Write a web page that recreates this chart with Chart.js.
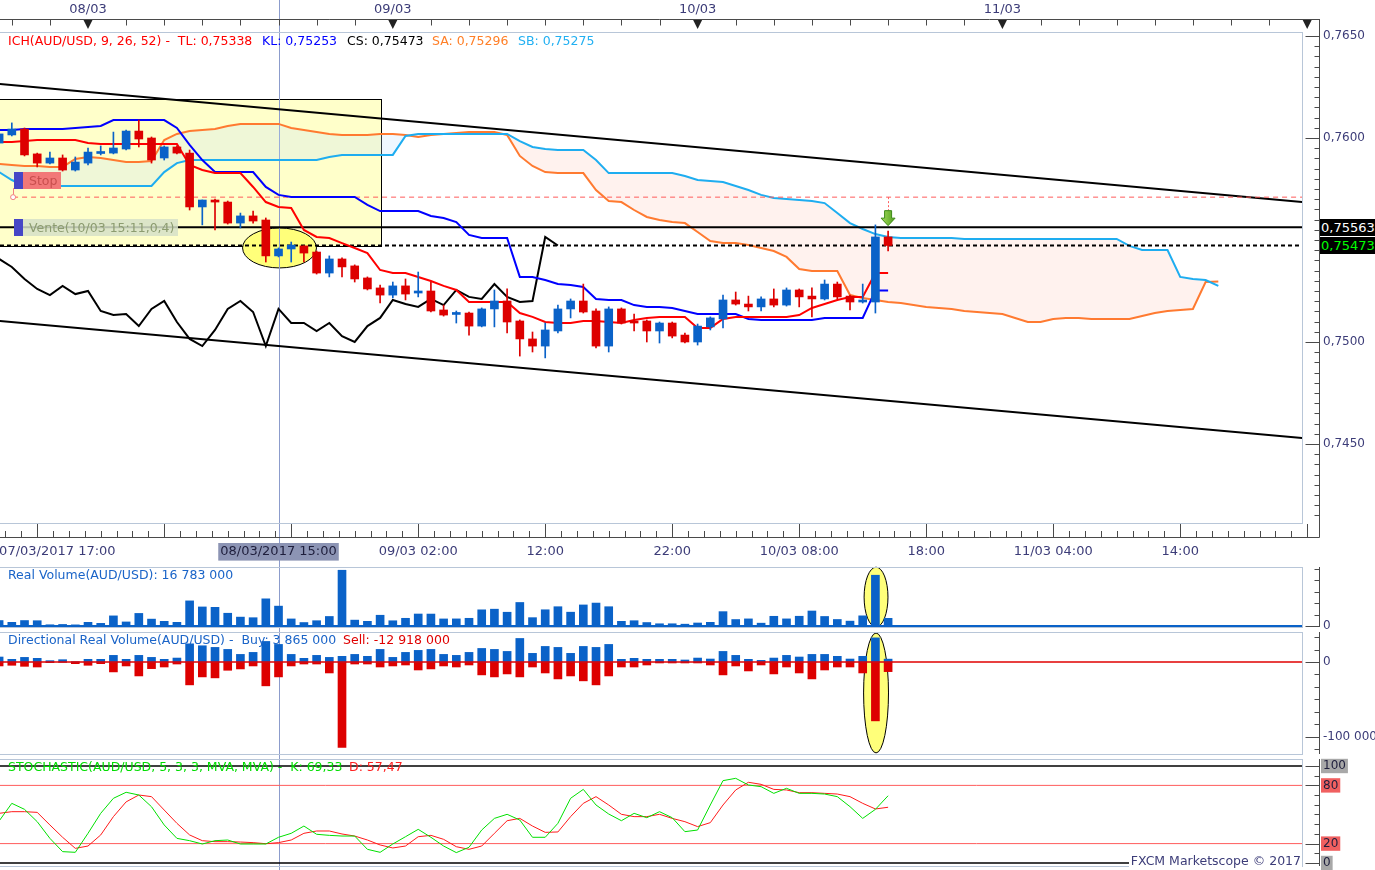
<!DOCTYPE html>
<html>
<head>
<meta charset="utf-8">
<title>AUD/USD - Ichimoku</title>
<script src="https://cdn.jsdelivr.net/npm/chart.js@4.4.1/dist/chart.umd.min.js"></script>
<style>
html,body{margin:0;padding:0;background:#fff;}
body{width:1375px;height:870px;position:relative;overflow:hidden;font-family:"DejaVu Sans",Verdana,sans-serif;}
canvas{position:absolute;left:0;}
#cMain{top:0;} #cVol{top:564px;} #cDir{top:630px;} #cSto{top:755px;}
.t{position:absolute;white-space:pre;font-size:12.5px;line-height:14px;font-family:"DejaVu Sans",Verdana,sans-serif;}
</style>
</head>
<body>
<canvas id="cMain" width="1375" height="567"></canvas>
<canvas id="cVol" width="1375" height="66"></canvas>
<canvas id="cDir" width="1375" height="125"></canvas>
<canvas id="cSto" width="1375" height="115"></canvas>
<script>
// ================= DATA =================
// hours relative to 08/03/2017 00:00 (one candle per hour)
const candleHours = [-7,-6,-5,-4,-3,-2,-1,0,1,2,3,4,5,6,7,8,9,10,11,12,13,14,15,16,17,18,19,20,21,22,23,24,25,26,27,28,29,30,31,32,33,34,35,36,37,38,39,40,41,42,43,44,45,46,47,48,49,50,51,52,53,54,55,56,57,58,59,60,61,62,63];
const forwardHours = [64,65,66,67,68,69,70,71,72,73,74,75,76,77,78,79,80,81,82,83,84,85,86,87,88,89];
const cloudHours = candleHours.concat(forwardHours);

const opens = [0.75975,0.76015,0.76044,0.75922,0.75877,0.75902,0.75843,
 0.75877,0.75924,0.75926,0.75946,0.76034,0.76000,0.75902,0.75956,
 0.75926,0.75662,0.75696,0.75686,0.75583,0.75618,0.75598,0.75422,
 0.75456,0.75471,0.75441,0.75338,0.75407,0.75373,0.75314,0.75265,
 0.75230,0.75275,0.75240,0.75250,0.75157,0.75135,0.75142,0.75078,
 0.75162,0.75201,0.75103,0.75015,0.74980,0.75054,0.75162,0.75201,
 0.75152,0.74980,0.75162,0.75103,0.75103,0.75054,0.75093,0.75034,
 0.75000,0.75074,0.75113,0.75206,0.75186,0.75172,0.75211,0.75181,
 0.75255,0.75225,0.75211,0.75284,0.75225,0.75196,0.75196,0.75515];
const highs = [0.76029,0.76074,0.76049,0.75926,0.75931,0.75917,0.75907,
 0.75951,0.75961,0.76029,0.76039,0.76088,0.76005,0.75961,0.75961,
 0.75941,0.75696,0.75701,0.75691,0.75632,0.75642,0.75608,0.75461,
 0.75490,0.75471,0.75446,0.75422,0.75412,0.75378,0.75319,0.75279,
 0.75294,0.75309,0.75343,0.75294,0.75181,0.75152,0.75147,0.75167,
 0.75255,0.75260,0.75108,0.75049,0.75093,0.75181,0.75211,0.75284,
 0.75162,0.75172,0.75167,0.75137,0.75108,0.75098,0.75098,0.75044,
 0.75088,0.75123,0.75230,0.75245,0.75225,0.75221,0.75260,0.75265,
 0.75260,0.75265,0.75304,0.75294,0.75230,0.75284,0.75574,0.75544];
const lows = [0.75966,0.76010,0.75912,0.75858,0.75873,0.75838,0.75838,
 0.75868,0.75917,0.75922,0.75941,0.75956,0.75877,0.75892,0.75922,
 0.75647,0.75574,0.75549,0.75578,0.75559,0.75583,0.75392,0.75417,
 0.75392,0.75392,0.75333,0.75319,0.75319,0.75294,0.75255,0.75191,
 0.75216,0.75206,0.75221,0.75147,0.75127,0.75093,0.75034,0.75074,
 0.75074,0.75044,0.74931,0.74951,0.74922,0.75044,0.75118,0.75142,
 0.74971,0.74951,0.75088,0.75054,0.75000,0.74995,0.75020,0.74995,
 0.74985,0.75059,0.75069,0.75181,0.75152,0.75152,0.75172,0.75176,
 0.75172,0.75123,0.75206,0.75211,0.75157,0.75191,0.75142,0.75446];
const closes = [0.76020,0.76044,0.75917,0.75877,0.75902,0.75843,0.75882,
 0.75931,0.75926,0.75951,0.76034,0.75995,0.75892,0.75956,0.75926,
 0.75662,0.75696,0.75686,0.75583,0.75618,0.75593,0.75422,0.75456,
 0.75475,0.75436,0.75338,0.75407,0.75368,0.75309,0.75260,0.75230,
 0.75275,0.75235,0.75250,0.75152,0.75132,0.75137,0.75078,0.75162,
 0.75201,0.75098,0.75015,0.74980,0.75059,0.75162,0.75201,0.75147,
 0.74980,0.75162,0.75093,0.75093,0.75054,0.75093,0.75029,0.75000,
 0.75078,0.75118,0.75206,0.75186,0.75172,0.75211,0.75181,0.75255,
 0.75221,0.75211,0.75284,0.75221,0.75196,0.75201,0.75515,0.75473];

const tenkan = [0.75980,0.75980,0.75985,0.75990,0.75990,0.75990,0.75990,
 0.75975,0.75971,0.75971,0.75971,0.75971,0.75971,0.75971,0.75971,
 0.75868,0.75843,0.75828,0.75828,0.75828,0.75760,0.75686,0.75662,
 0.75657,0.75549,0.75515,0.75510,0.75485,0.75461,0.75436,0.75353,
 0.75338,0.75338,0.75319,0.75299,0.75275,0.75255,0.75196,0.75196,
 0.75196,0.75196,0.75142,0.75123,0.75098,0.75093,0.75093,0.75103,
 0.75103,0.75098,0.75093,0.75108,0.75118,0.75123,0.75123,0.75123,
 0.75069,0.75069,0.75113,0.75123,0.75123,0.75123,0.75123,0.75123,
 0.75132,0.75167,0.75186,0.75206,0.75221,0.75221,0.75338,0.75338];
const kijun = [0.76039,0.76039,0.76044,0.76044,0.76044,0.76044,0.76049,
 0.76054,0.76059,0.76088,0.76088,0.76088,0.76088,0.76088,0.76049,
 0.75966,0.75892,0.75833,0.75833,0.75833,0.75833,0.75760,0.75721,
 0.75711,0.75711,0.75711,0.75711,0.75711,0.75711,0.75672,0.75642,
 0.75642,0.75642,0.75642,0.75618,0.75608,0.75588,0.75525,0.75510,
 0.75510,0.75510,0.75319,0.75319,0.75304,0.75284,0.75279,0.75270,
 0.75211,0.75206,0.75206,0.75181,0.75172,0.75172,0.75167,0.75152,
 0.75137,0.75137,0.75137,0.75137,0.75113,0.75108,0.75108,0.75108,
 0.75108,0.75108,0.75118,0.75118,0.75118,0.75118,0.75253,0.75253];
const senkouA = [0.75873,0.75868,0.75863,0.75863,0.75858,0.75858,0.75897,
 0.75907,0.75902,0.75892,0.75882,0.75882,0.75887,0.75990,0.76020,0.76034,0.76039,
 0.76044,0.76059,0.76069,0.76069,0.76069,0.76069,0.76049,0.76039,0.76029,0.76020,
 0.76015,0.76015,0.76015,0.76020,0.76020,0.76015,0.76005,0.76015,0.76020,0.76025,
 0.76029,0.76029,0.76029,0.76015,0.75912,0.75863,0.75833,0.75828,0.75828,0.75828,
 0.75745,0.75691,0.75686,0.75647,0.75613,0.75598,0.75588,0.75583,0.75539,0.75495,
 0.75485,0.75485,0.75475,0.75461,0.75446,0.75417,0.75358,0.75348,0.75348,0.75348,
 0.75230,0.75216,0.75206,0.75196,0.75191,0.75181,0.75172,0.75167,0.75162,0.75152,
 0.75147,0.75142,0.75137,0.75118,0.75098,0.75098,0.75113,0.75118,0.75118,0.75113,
 0.75113,0.75113,0.75113,0.75127,0.75142,0.75152,0.75157,0.75162,0.75294,0.75296];
const senkouB = [0.75833,0.75794,0.75765,0.75765,0.75765,0.75765,0.75765,
 0.75765,0.75765,0.75765,0.75765,0.75765,0.75765,0.75833,0.75877,0.75892,0.75892,
 0.75892,0.75892,0.75892,0.75892,0.75892,0.75892,0.75892,0.75892,0.75892,0.75907,
 0.75917,0.75917,0.75917,0.75917,0.75917,0.76010,0.76020,0.76020,0.76020,0.76020,
 0.76020,0.76020,0.76020,0.76020,0.75985,0.75956,0.75946,0.75941,0.75941,0.75941,
 0.75892,0.75828,0.75828,0.75828,0.75828,0.75828,0.75828,0.75814,0.75794,0.75789,
 0.75784,0.75765,0.75745,0.75721,0.75706,0.75701,0.75696,0.75691,0.75681,0.75632,
 0.75583,0.75554,0.75529,0.75515,0.75510,0.75510,0.75510,0.75510,0.75510,0.75505,
 0.75505,0.75505,0.75505,0.75505,0.75505,0.75505,0.75505,0.75505,0.75505,0.75505,
 0.75505,0.75505,0.75471,0.75451,0.75451,0.75451,0.75319,0.75309,0.75304,0.75275];
const CHIKOU_SHIFT = 26;

const buyVolume = [6.7e6,3.6e6,6.2e6,4.9e6,1.8e6,3.1e6,0.3e6,
 3.6e6,3.6e6,8.9e6,3.6e6,8.9e6,6.2e6,3.6e6,5.3e6,
 24.4e6,21.8e6,19.6e6,16.9e6,10.2e6,12.9e6,27.6e6,23.6e6,
 10.2e6,4.9e6,8.9e6,6.2e6,7.6e6,10.2e6,7.6e6,16.9e6,
 6.2e6,12.9e6,15.6e6,16.9e6,10.2e6,8.9e6,12.9e6,18.2e6,
 16.9e6,14.2e6,31.6e6,11.6e6,20.9e6,19.6e6,11.6e6,20.9e6,
 19.6e6,23.6e6,3.6e6,4.9e6,3.6e6,3.6e6,3.6e6,2.7e6,
 5.3e6,4.0e6,14.2e6,8.9e6,3.6e6,2.2e6,5.3e6,8.9e6,
 6.7e6,10.2e6,10.2e6,7.6e6,4.0e6,7.6e6,32.4e6,3.865e6];
const sellVolume = [5.3e6,4.4e6,5.8e6,6.7e6,0.9e6,0.3e6,2.2e6,
 4.4e6,2.2e6,13.3e6,5.3e6,18.7e6,8.9e6,6.7e6,2.7e6,
 30.7e6,20.0e6,21.3e6,11.1e6,9.3e6,5.3e6,32.0e6,20.0e6,
 5.3e6,2.7e6,2.7e6,14.7e6,114.7e6,2.7e6,2.7e6,6.7e6,
 5.3e6,4.0e6,10.7e6,9.3e6,5.3e6,6.7e6,4.0e6,17.3e6,
 20.0e6,16.0e6,20.0e6,6.7e6,14.7e6,22.7e6,18.7e6,25.3e6,
 30.7e6,18.7e6,6.7e6,6.7e6,4.0e6,1.3e6,1.3e6,1.3e6,
 1.3e6,4.0e6,17.3e6,5.3e6,12.0e6,4.0e6,16.0e6,6.7e6,
 14.7e6,22.7e6,10.7e6,6.7e6,6.7e6,14.7e6,79.0e6,12.918e6];

const stochK = [43.3,61.5,55.3,42.6,25.4,11.7,11,
 30.6,51.2,66.7,72.9,70.1,58,39.2,25.4,
 23,19.6,23,23.7,19.6,19.6,19.6,26.5,
 30.6,38.1,29.6,28.5,27.8,27.8,14.1,11,
 19.6,27.1,34.7,26.5,17.5,10.7,16.2,34,
 46,50.2,44.3,26.5,26.5,40.9,66.7,75.9,
 59.8,50.5,43.6,51.2,46.7,52.9,46.7,32.3,
 34,59.8,84.9,87.3,80.4,78.7,71.8,77,
 71.8,71.8,71.1,68.4,58.1,46,55.3,69.33];
const stochD = [51.2,52.9,52.9,52.2,39.2,26.5,15.1,
 17.5,28.9,47.8,63,70.1,68.4,54.6,40.9,
 28.9,23,22,22,21.6,21,19.9,21,
 23.7,30.6,33,33,29.9,27.8,23.7,18.6,
 15.5,17.5,27.1,28.5,24.4,16.8,14.1,17.5,
 30.6,43.6,46,38.1,31.6,32,47.8,61.5,
 68.4,59.8,50.2,47.8,47.8,50.2,46,42.6,
 37.5,41.6,59.8,75.3,83.2,81.1,75.9,75.3,
 72.5,72.5,71.8,71.1,68.4,61.5,55.7,57.47];
const stochLevels = [100, 80, 20, 0];

const dayTickHours = [0, 24, 48, 72];
const dayTickLabels = ['08/03', '09/03', '10/03', '11/03'];
const timeTickHours = [-7, 15, 26, 36, 46, 56, 66, 76, 86, 95.59];
const timeTickLabels = ['07/03/2017 17:00', '08/03/2017 15:00', '09/03 02:00', '12:00', '22:00', '10/03 08:00', '18:00', '11/03 04:00', '14:00', ''];
const CROSS_HOUR = 15;

const SELL_LEVEL = 0.75563, LAST_CLOSE = 0.75473, STOP_LEVEL = 0.75710;
const SELL_HOUR = 63, STOP_START_HOUR = -5.9;
const upperTrend = [[-7, 0.76265], [96, 0.75684]];
const lowerTrend = [[-7, 0.75103], [96, 0.74527]];
const yellowBox = {h0: -7.5, h1: 23.07, top: 0.76191, bottom: 0.75473};
const priceEllipse = {h: 15.08, hw: 2.91, lo: 0.75363, hi: 0.75559};
const volEllipse = {h: 62.05, hw: 0.94, lo: -2.2e6, hi: 129e6};
const dirEllipse = {h: 62.05, hw: 0.98, lo: -122e6, hi: 38.9e6};

// ================= VIEW =================
const XMIN = -6.93, XMAX = 95.59;
const PRICE_MIN = 0.741127, PRICE_MAX = 0.765196;
const VOL_MIN = -8.77e6, VOL_MAX = 136e6;
const DIR_MIN = -124.8e6, DIR_MAX = 42.95e6;
const STO_MIN = -7.22, STO_MAX = 111.34;

const FONTFAM = '"DejaVu Sans", Verdana, sans-serif';
const FONT = {family: FONTFAM, size: 12};
const FONT_T = {family: FONTFAM, size: 13};
Chart.defaults.font.family = FONTFAM;
Chart.defaults.font.size = 12;
const C = {
  up: '#0A62C8', down: '#DD0000', tenkan: '#FF0000', kijun: '#0000FF',
  sa: '#FF7A30', sb: '#1EADF0',
  cloudUp: 'rgba(190,225,255,0.25)', cloudDown: 'rgba(255,212,200,0.30)',
  axisText: '#3C3C78', axis: '#4A4A4A', frame: '#B8C6D8', cross: '#8C9CCC',
  stochK: '#00E000', stochD: '#FF1A1A', level: '#FF5C5C'
};

const pts = (xs, ys) => xs.map((x, i) => ({x: x, y: ys[i]}));
const isMult = (v, step) => { const r = v / step; return Math.abs(r - Math.round(r)) < 1e-6; };
const fmt = (v, d) => v.toFixed(d).replace('.', ',');
const fmtVol = v => Math.round(v).toString().replace(/\B(?=(\d{3})+(?!\d))/g, ' ');
const candleColor = c => (c.dataIndex === undefined || closes[c.dataIndex] >= opens[c.dataIndex]) ? C.up : C.down;
const last = a => a[a.length - 1];

const chikouPts = candleHours.filter((h, i) => i + CHIKOU_SHIFT < closes.length)
  .map((h, i) => ({x: h, y: closes[i + CHIKOU_SHIFT]}));
const hline = (v, x0) => [{x: x0 === undefined ? XMIN : x0, y: v}, {x: XMAX, y: v}];

function rightY(min, max, step, cb, extra) {
  return {
    type: 'linear', position: 'right', min: min, max: max,
    grid: {display: false, drawTicks: false}, border: {display: false},
    afterBuildTicks(s) {
      const out = [];
      const k0 = Math.ceil(min / step - 1e-6), k1 = Math.floor(max / step + 1e-6);
      for (let k = k0; k <= k1; k++) out.push({value: k * step});
      s.ticks = out;
    },
    ticks: Object.assign({stepSize: step, autoSkip: false, padding: 21, color: C.axisText, font: FONT, callback: cb}, extra || {}),
    afterFit(s) { s.width = 73; s.paddingTop = 0; s.paddingBottom = 0; }
  };
}
const hiddenX = () => ({type: 'linear', min: XMIN, max: XMAX, offset: false, display: false});
const baseOpts = () => ({
  responsive: false, animation: false, events: [],
  layout: {padding: 0},
  plugins: {legend: {display: false}, tooltip: {enabled: false}},
  elements: {point: {radius: 0, hoverRadius: 0}, line: {tension: 0}, bar: {borderWidth: 0}}
});

// ---------- drawing helpers ----------
function drawEllipse(ctx, xs, ys, e) {
  const cx = xs.getPixelForValue(e.h), rx = Math.abs(xs.getPixelForValue(e.h + e.hw) - cx);
  const y1 = ys.getPixelForValue(e.lo), y2 = ys.getPixelForValue(e.hi);
  ctx.save();
  ctx.beginPath(); ctx.ellipse(cx, (y1 + y2) / 2, rx, Math.abs(y1 - y2) / 2, 0, 0, Math.PI * 2);
  ctx.fillStyle = '#FFFF7A'; ctx.fill();
  ctx.strokeStyle = '#000'; ctx.lineWidth = 1; ctx.stroke();
  ctx.restore();
}
function drawCross(chart, y0, y1) {
  const ctx = chart.ctx, x = Math.round(chart.scales.x.getPixelForValue(CROSS_HOUR)) + 0.5;
  ctx.save(); ctx.strokeStyle = C.cross; ctx.lineWidth = 1;
  ctx.beginPath(); ctx.moveTo(x, y0); ctx.lineTo(x, y1); ctx.stroke(); ctx.restore();
}
function drawFrame(ctx, x0, y0, x1, y1) {
  ctx.save(); ctx.strokeStyle = C.frame; ctx.lineWidth = 1;
  ctx.strokeRect(x0 + 0.5, y0 + 0.5, x1 - x0, y1 - y0); ctx.restore();
}
function drawRightAxis(chart, top, bottom) {
  const ctx = chart.ctx, s = chart.scales.y, ax = Math.round(chart.chartArea.right) + 17.5;
  ctx.save(); ctx.strokeStyle = C.axis; ctx.lineWidth = 1;
  ctx.beginPath(); ctx.moveTo(ax, top); ctx.lineTo(ax, bottom);
  s.ticks.forEach(t => {
    const y = Math.round(s.getPixelForValue(t.value)) + 0.5;
    if (!(y >= top && y <= bottom)) return;
    const len = t.label ? 14 : 5;
    ctx.moveTo(ax - len, y); ctx.lineTo(ax, y);
  });
  ctx.stroke(); ctx.restore();
}

// ---------- main chart decorations ----------
const mainDecor = {
  id: 'mainDecor',
  beforeDraw(chart) { drawCross(chart, 0, chart.height); },
  beforeDatasetsDraw(chart) {
    const ctx = chart.ctx, a = chart.chartArea, xs = chart.scales.x, ys = chart.scales.y;
    ctx.save();
    ctx.beginPath(); ctx.rect(a.left, a.top, a.right - a.left, a.bottom - a.top); ctx.clip();
    const bx0 = xs.getPixelForValue(yellowBox.h0), bx1 = Math.round(xs.getPixelForValue(yellowBox.h1));
    const by0 = Math.round(ys.getPixelForValue(yellowBox.top)), by1 = Math.round(ys.getPixelForValue(yellowBox.bottom));
    ctx.fillStyle = '#FFFFCA'; ctx.fillRect(bx0, by0, bx1 - bx0, by1 - by0);
    ctx.strokeStyle = '#000'; ctx.lineWidth = 1; ctx.strokeRect(bx0 + 0.5, by0 + 0.5, bx1 - bx0, by1 - by0);
    drawEllipse(ctx, xs, ys, priceEllipse);
    ctx.restore();
    drawCross(chart, a.top, a.bottom);
  },
  afterDatasetsDraw(chart) {
    const ctx = chart.ctx, xs = chart.scales.x, ys = chart.scales.y;
    const ax = xs.getPixelForValue(SELL_HOUR), tip = ys.getPixelForValue(SELL_LEVEL) - 1.5;
    const yStop = ys.getPixelForValue(STOP_LEVEL);
    ctx.save();
    ctx.strokeStyle = '#FF6060'; ctx.lineWidth = 1; ctx.setLineDash([2, 2]);
    ctx.beginPath(); ctx.moveTo(Math.round(ax) + 0.5, yStop); ctx.lineTo(Math.round(ax) + 0.5, tip - 15); ctx.stroke();
    ctx.setLineDash([]);
    ctx.beginPath();
    ctx.moveTo(ax, tip); ctx.lineTo(ax - 7, tip - 7.5); ctx.lineTo(ax - 3.5, tip - 7.5); ctx.lineTo(ax - 3.5, tip - 15);
    ctx.lineTo(ax + 3.5, tip - 15); ctx.lineTo(ax + 3.5, tip - 7.5); ctx.lineTo(ax + 7, tip - 7.5); ctx.closePath();
    const g = ctx.createLinearGradient(ax - 7, 0, ax + 7, 0);
    g.addColorStop(0, '#A6DC5A'); g.addColorStop(1, '#4E9E1E');
    ctx.fillStyle = g; ctx.fill(); ctx.strokeStyle = '#3E8A18'; ctx.stroke();
    const sx = xs.getPixelForValue(STOP_START_HOUR);
    ctx.strokeStyle = '#F28080';
    ctx.beginPath(); ctx.moveTo(Math.round(sx) + 0.5, yStop - 9); ctx.lineTo(Math.round(sx) + 0.5, yStop - 2.5); ctx.stroke();
    ctx.beginPath(); ctx.arc(sx, yStop, 2.5, 0, Math.PI * 2); ctx.fillStyle = '#fff'; ctx.fill(); ctx.stroke();
    ctx.restore();
  },
  afterDraw(chart) {
    const ctx = chart.ctx, a = chart.chartArea, xs = chart.scales.x;
    drawFrame(ctx, -1, a.top, a.right, a.bottom);
    const right = Math.round(a.right) + 17.5;
    ctx.save(); ctx.strokeStyle = C.axis; ctx.lineWidth = 1;
    ctx.beginPath(); ctx.moveTo(0, 19.5); ctx.lineTo(right, 19.5);
    for (let h = -6; h <= 96; h += 3) { const x = Math.round(xs.getPixelForValue(h)) + 0.5; ctx.moveTo(x, 19.5); ctx.lineTo(x, 25.5); }
    ctx.moveTo(0, 537.5); ctx.lineTo(right, 537.5);
    for (let k = -2; k <= 80; k++) {
      const h = -4 + 1.25 * k; const x = Math.round(xs.getPixelForValue(h)) + 0.5;
      if (x > right) break;
      const major = k % 8 === 0;
      ctx.moveTo(x, major ? 524 : 531); ctx.lineTo(x, 537.5);
    }
    ctx.stroke();
    ctx.fillStyle = '#222';
    [0, 24, 48, 72, 96].forEach(h => {
      const x = xs.getPixelForValue(h);
      ctx.beginPath(); ctx.moveTo(x - 4.5, 20); ctx.lineTo(x + 4.5, 20); ctx.lineTo(x, 29); ctx.closePath(); ctx.fill();
    });
    ctx.restore();
    drawRightAxis(chart, 19, 537.5);
  }
};

function panelDecor(id, ellipse, frameTop, frameBottom) {
  return {
    id: id,
    beforeDatasetsDraw(chart) {
      if (ellipse) drawEllipse(chart.ctx, chart.scales.x, chart.scales.y, ellipse);
      drawCross(chart, 0, chart.height);
    },
    afterDraw(chart) {
      drawFrame(chart.ctx, -1, frameTop, chart.chartArea.right, frameBottom);
      drawRightAxis(chart, frameTop, frameBottom);
    }
  };
}

// ================= MAIN PRICE CHART =================
const line = (label, data, color, width, order, extra) => Object.assign({type: 'line', label: label, data: data, borderColor: color, borderWidth: width, pointRadius: 0, fill: false, order: order}, extra || {});

const mainChart = new Chart(document.getElementById('cMain'), {
  type: 'bar',
  data: {datasets: [
    line('SA', pts(cloudHours, senkouA), C.sa, 2, 20, {fill: {target: '+1', above: C.cloudUp, below: C.cloudDown}}),
    line('SB', pts(cloudHours, senkouB), C.sb, 2, 19),
    line('Upper trend', upperTrend.map(p => ({x: p[0], y: p[1]})), '#000', 2, 15),
    line('Lower trend', lowerTrend.map(p => ({x: p[0], y: p[1]})), '#000', 2, 15),
    line('Stop', hline(STOP_LEVEL, STOP_START_HOUR), '#FF5A5A', 1, 14, {borderDash: [5, 4]}),
    line('Vente', hline(SELL_LEVEL), '#000', 2, 13),
    line('Close', hline(LAST_CLOSE), '#000', 2, 13, {borderDash: [4, 3]}),
    line('CS', chikouPts, '#000', 2, 10),
    line('KL', pts(candleHours, kijun), C.kijun, 2, 9),
    line('TL', pts(candleHours, tenkan), C.tenkan, 2, 8),
    {type: 'bar', label: 'wicks', data: candleHours.map((h, i) => ({x: h, y: [lows[i], highs[i]]})),
     backgroundColor: candleColor, barThickness: 1, grouped: false, order: 3},
    {type: 'bar', label: 'bodies', data: candleHours.map((h, i) => ({x: h, y: [opens[i], closes[i]]})),
     backgroundColor: candleColor, barThickness: 8, minBarLength: 2, grouped: false, order: 2}
  ]},
  options: Object.assign(baseOpts(), {
    scales: {
      x: {
        type: 'linear', position: 'top', min: XMIN, max: XMAX, offset: false,
        grid: {display: false, drawTicks: false}, border: {display: false},
        afterBuildTicks(s) { s.ticks = dayTickHours.map(v => ({value: v})); },
        ticks: {autoSkip: false, maxRotation: 0, minRotation: 0, padding: 15, color: C.axisText, font: FONT_T,
                callback: (v, i) => dayTickLabels[i]},
        afterFit(s) { s.height = 32; s.paddingLeft = 0; s.paddingRight = 0; }
      },
      x2: {
        type: 'linear', position: 'bottom', min: XMIN, max: XMAX, offset: false,
        grid: {display: false, drawTicks: false}, border: {display: false},
        afterBuildTicks(s) { s.ticks = timeTickHours.map(v => ({value: v})); },
        ticks: {autoSkip: false, maxRotation: 0, minRotation: 0, align: 'inner', padding: 21, font: FONT_T,
                color: c => c.index === 1 ? '#1E1E3C' : C.axisText,
                showLabelBackdrop: c => c.index === 1, backdropColor: '#8C94B4',
                backdropPadding: {left: 2, right: 2, top: 1, bottom: 1},
                callback: (v, i) => timeTickLabels[i]},
        afterFit(s) { s.height = 44; s.paddingLeft = 0; s.paddingRight = 0; }
      },
      y: rightY(PRICE_MIN, PRICE_MAX, 0.0005, v => (isMult(v, 0.005) && Math.abs(v - 0.755) > 1e-7) ? fmt(v, 4) : '')
    }
  }),
  plugins: [mainDecor]
});

// ================= REAL VOLUME =================
const volChart = new Chart(document.getElementById('cVol'), {
  type: 'bar',
  data: {datasets: [
    line('base', hline(0), C.up, 2, 5),
    {type: 'bar', label: 'Real Volume', data: candleHours.map((h, i) => ({x: h, y: buyVolume[i] + sellVolume[i]})),
     backgroundColor: C.up, barThickness: 8, grouped: false, order: 1}
  ]},
  options: Object.assign(baseOpts(), {
    scales: {x: hiddenX(), y: rightY(VOL_MIN, VOL_MAX, 25e6, v => Math.abs(v) < 1 ? '0' : '')}
  }),
  plugins: [panelDecor('volDecor', volEllipse, 3, 63)]
});

// ================= DIRECTIONAL REAL VOLUME =================
const dirChart = new Chart(document.getElementById('cDir'), {
  type: 'bar',
  data: {datasets: [
    line('zero', hline(0), '#E00000', 1.5, 0),
    {type: 'bar', label: 'Buy', data: candleHours.map((h, i) => ({x: h, y: buyVolume[i]})),
     backgroundColor: C.up, barThickness: 8, grouped: false, order: 2},
    {type: 'bar', label: 'Sell', data: candleHours.map((h, i) => ({x: h, y: -sellVolume[i]})),
     backgroundColor: C.down, barThickness: 8, grouped: false, order: 2}
  ]},
  options: Object.assign(baseOpts(), {
    scales: {x: hiddenX(), y: rightY(DIR_MIN, DIR_MAX, 100e6 / 6,
      v => Math.abs(v) < 1 ? '0' : (Math.abs(v + 100e6) < 1 ? '-100 000 000' : ''))}
  }),
  plugins: [panelDecor('dirDecor', dirEllipse, 2, 124)]
});

// ================= STOCHASTIC =================
const stoLabel = v => stochLevels.some(l => Math.abs(v - l) < 1e-6);
const stoChart = new Chart(document.getElementById('cSto'), {
  type: 'line',
  data: {datasets: [
    line('100', hline(stochLevels[0]), '#000', 1.5, 5),
    line('80', hline(stochLevels[1]), C.level, 1, 5),
    line('20', hline(stochLevels[2]), C.level, 1, 5),
    line('0', hline(stochLevels[3]), '#000', 1.5, 5),
    line('D', pts(candleHours, stochD), C.stochD, 1, 2),
    line('K', pts(candleHours, stochK), C.stochK, 1, 1)
  ]},
  options: Object.assign(baseOpts(), {
    scales: {x: hiddenX(), y: rightY(STO_MIN, STO_MAX, 10, v => stoLabel(v) ? String(Math.round(v)) : '', {
      color: '#1E1E3C',
      showLabelBackdrop: c => stoLabel(c.tick.value),
      backdropColor: c => (Math.abs(c.tick.value - 80) < 1e-6 || Math.abs(c.tick.value - 20) < 1e-6) ? '#F06060' : '#A8A8A8',
      backdropPadding: {left: 2, right: 2, top: 0, bottom: 0}
    })}
  }),
  plugins: [panelDecor('stoDecor', null, 4, 111)]
});

// ================= TEXT OVERLAYS =================
function txt(s, left, cy, color, style) {
  const d = document.createElement('div'); d.className = 't'; d.textContent = s;
  d.style.left = left + 'px'; d.style.top = (cy - 7) + 'px'; d.style.color = color;
  if (style) Object.assign(d.style, style);
  document.body.appendChild(d); return d;
}
txt('ICH(AUD/USD, 9, 26, 52) -  TL: ' + fmt(last(tenkan), 5), 8, 41, '#FF0000');
txt('KL: ' + fmt(last(kijun), 5), 262, 41, '#0000FF');
txt('CS: ' + fmt(last(closes), 5), 347, 41, '#000000');
txt('SA: ' + fmt(last(senkouA), 5), 432, 41, '#FF7F27');
txt('SB: ' + fmt(last(senkouB), 5), 518, 41, '#22B0F2');
txt('Real Volume(AUD/USD): ' + fmtVol(last(buyVolume) + last(sellVolume)), 8, 575, '#1A64C8');
txt('Directional Real Volume(AUD/USD) -  Buy: ' + fmtVol(last(buyVolume)), 8, 640, '#1A64C8');
txt('Sell: -' + fmtVol(last(sellVolume)), 343, 640, '#E00000');
txt('STOCHASTIC(AUD/USD, 5, 3, 3, MVA, MVA) -  K: ' + fmt(last(stochK), 2), 8, 767, '#00DD00');
txt('D: ' + fmt(last(stochD), 2), 349, 767, '#FF2020');
txt('FXCM Marketscope \u00A9 2017', 0, 861, '#3C3C78', {left: 'auto', right: '73px', background: '#fff', padding: '0 1px 0 2px'});

const ysMain = mainChart.scales.y, xsMain = mainChart.scales.x;
function priceBox(s, v, color) {
  txt(s, 1320, ysMain.getPixelForValue(v) + 7 - 8.5, color,
      {background: '#000', width: '54px', height: '17px', lineHeight: '17px', paddingLeft: '1px', fontSize: '13px'});
}
priceBox(fmt(SELL_LEVEL, 5), SELL_LEVEL, '#FFFFFF');
priceBox(fmt(LAST_CLOSE, 5), LAST_CLOSE, '#00FF00');

function orderLabel(s, v, dy, bg, fg) {
  const lx = Math.round(xsMain.getPixelForValue(STOP_START_HOUR)) + 1;
  const cy = ysMain.getPixelForValue(v) + dy;
  const sq = document.createElement('div');
  Object.assign(sq.style, {position: 'absolute', left: lx + 'px', top: (cy - 8.5) + 'px', width: '9px', height: '17px', background: '#4646C6'});
  document.body.appendChild(sq);
  txt(s, lx + 9, cy, fg, {background: bg, height: '17px', lineHeight: '17px', top: (cy - 8.5) + 'px', padding: '0 4px 0 6px'});
}
orderLabel('Stop', STOP_LEVEL, -17, '#F27878', '#C94E4E');
orderLabel('Vente(10/03 15:11,0,4)', SELL_LEVEL, 0, 'rgba(214,224,200,0.85)', '#8C9C70');
</script>
</body>
</html>
